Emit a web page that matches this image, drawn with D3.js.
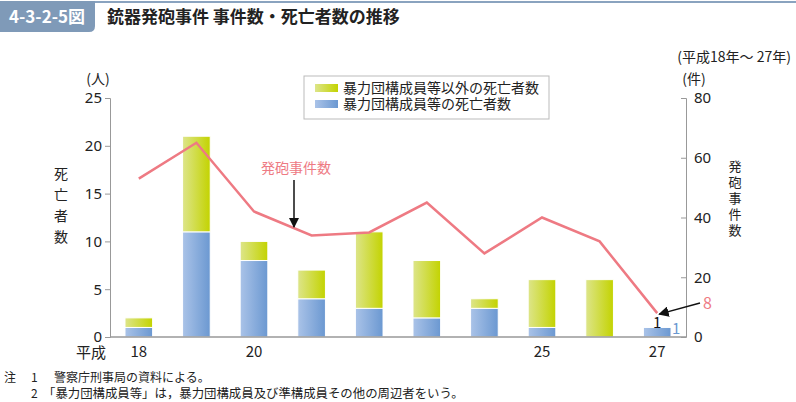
<!DOCTYPE html>
<html><head><meta charset="utf-8">
<script src="https://cdn.jsdelivr.net/npm/d3@7"></script>
<style>
html,body{margin:0;padding:0;background:#fff;}
svg{display:block;font-family:"Noto Sans CJK JP","Noto Sans",sans-serif;}
</style></head>
<body>
<svg id="c" width="796" height="402"></svg>
<script>
const years = ["18","19","20","21","22","23","24","25","26","27"];
const tickYears = {"18":"18","20":"20","25":"25","27":"27"};
const gangDeaths = [1, 11, 8, 4, 3, 2, 3, 1, 0, 1];
const otherDeaths = [1, 10, 2, 3, 8, 6, 1, 5, 6, 0];
const incidents = [53, 65, 42, 34, 35, 45, 28, 40, 32, 8];
const leftTicks = [0, 5, 10, 15, 20, 25];
const rightTicks = [0, 20, 40, 60, 80];
const legendLabels = ["暴力団構成員等以外の死亡者数", "暴力団構成員等の死亡者数"];

const svg = d3.select("#c");
const X0 = 110, X1 = 686, Y0 = 337, Y1 = 98;
const x = d3.scaleBand().domain(years).range([X0, X1]).paddingInner(0.52).paddingOuter(0.26);
const yL = d3.scaleLinear().domain([0, 25]).range([Y0, Y1]);
const yR = d3.scaleLinear().domain([0, 80]).range([Y0, Y1]);

const defs = svg.append("defs");
function grad(id, c1, c2) {
  const g = defs.append("linearGradient").attr("id", id).attr("x1", "0").attr("x2", "1").attr("y1", "0").attr("y2", "0");
  g.append("stop").attr("offset", "0").attr("stop-color", c1);
  g.append("stop").attr("offset", "1").attr("stop-color", c2);
}
grad("gBlue", "#aac3e8", "#6b98d1");
grad("gGreen", "#dde58a", "#c3d300");

// Title
svg.append("line").attr("x1", 90).attr("x2", 796).attr("y1", 2).attr("y2", 2).attr("stroke", "#8aa3bf").attr("stroke-width", 2);
svg.append("path").attr("d", "M0,1 H95 V26 Q95,32 89,32 H0 Z").attr("fill", "#7f9ab8");
svg.append("text").attr("x", 47).attr("y", 23).attr("text-anchor", "middle").attr("fill", "#fff")
  .attr("font-size", 17).attr("font-weight", "bold").text("4-3-2-5図");
svg.append("text").attr("x", 107).attr("y", 23).attr("fill", "#222")
  .attr("font-size", 17).attr("font-weight", "bold").text("銃器発砲事件 事件数・死亡者数の推移");

svg.append("text").attr("x", 791).attr("y", 62).attr("text-anchor", "end").attr("fill", "#222")
  .attr("font-size", 14).text("(平成18年～ 27年)");

// Bars
const data = years.map((y, i) => ({year: y, gang: gangDeaths[i], other: otherDeaths[i]}));
const stack = d3.stack().keys(["gang", "other"])(data);
const fills = {gang: "url(#gBlue)", other: "url(#gGreen)"};
stack.forEach(layer => {
  svg.append("g").selectAll("rect").data(layer.filter(d => d[1] > d[0])).join("rect")
    .attr("x", d => x(d.data.year))
    .attr("width", x.bandwidth())
    .attr("y", d => yL(d[1]))
    .attr("height", d => yL(d[0]) - yL(d[1]))
    .attr("fill", fills[layer.key])
    .attr("stroke", "#fff").attr("stroke-width", 1);
});

// Axes
const axisColor = "#999";
svg.append("line").attr("x1", X0).attr("x2", X1).attr("y1", Y0).attr("y2", Y0).attr("stroke", axisColor).attr("stroke-width", 1.5);
const gl = svg.append("g").attr("transform", `translate(${X0},0)`).call(d3.axisLeft(yL).tickValues(leftTicks).tickSize(5).tickPadding(3));
gl.select(".domain").attr("stroke", axisColor);
gl.selectAll(".tick line").attr("stroke", axisColor);
gl.selectAll(".tick text").attr("font-size", 15).attr("fill", "#222").attr("font-family", "'Noto Sans','Noto Sans CJK JP',sans-serif");
const gr = svg.append("g").attr("transform", `translate(${X1},0)`).call(d3.axisRight(yR).tickValues(rightTicks).tickSize(-5).tickPadding(8));
gr.select(".domain").attr("stroke", axisColor);
gr.selectAll(".tick line").attr("stroke", axisColor);
gr.selectAll(".tick text").attr("font-size", 15).attr("fill", "#222").attr("font-family", "'Noto Sans','Noto Sans CJK JP',sans-serif");

// x labels
svg.append("g").selectAll("text").data(years.filter(y => tickYears[y])).join("text")
  .attr("x", d => x(d) + x.bandwidth() / 2).attr("y", 357).attr("text-anchor", "middle")
  .attr("font-size", 15).attr("fill", "#222").text(d => tickYears[d]);
svg.append("text").attr("x", 106).attr("y", 358).attr("text-anchor", "end").attr("font-size", 15).attr("fill", "#222").text("平成");

// units
svg.append("text").attr("x", 98).attr("y", 84).attr("text-anchor", "middle").attr("font-size", 14).attr("fill", "#222").text("(人)");
svg.append("text").attr("x", 694).attr("y", 84).attr("text-anchor", "middle").attr("font-size", 14).attr("fill", "#222").text("(件)");

// vertical axis titles
svg.append("text").attr("x", 61).attr("y", 167).attr("font-size", 14).attr("fill", "#222")
  .style("writing-mode", "vertical-rl").style("letter-spacing", "7px").text("死亡者数");
svg.append("text").attr("x", 735).attr("y", 160).attr("font-size", 13).attr("fill", "#222")
  .style("writing-mode", "vertical-rl").style("letter-spacing", "3px").text("発砲事件数");

// Line
const line = d3.line().x((d, i) => x(years[i]) + x.bandwidth() / 2).y(d => yR(d));
svg.append("path").datum(incidents).attr("d", line).attr("fill", "none").attr("stroke", "#ee7a83").attr("stroke-width", 2.5).attr("stroke-linejoin", "miter");

// Legend
svg.append("rect").attr("x", 304).attr("y", 76).attr("width", 245).attr("height", 43).attr("fill", "#fff").attr("stroke", "#bbb").attr("stroke-width", 1);
const legFills = ["url(#gGreen)", "url(#gBlue)"];
legendLabels.forEach((l, i) => {
  svg.append("rect").attr("x", 315).attr("y", 84 + i * 16).attr("width", 23).attr("height", 8).attr("fill", legFills[i]);
});
const legText = svg.append("text").attr("x", 343).attr("y", 93).attr("font-size", 14).attr("fill", "#222");
legendLabels.forEach((l, i) => {
  legText.append("tspan").attr("x", 343).attr("dy", i === 0 ? 0 : 16).text(l);
});

// Arrows
defs.append("marker").attr("id", "ah").attr("viewBox", "0 0 10 10").attr("refX", 9).attr("refY", 5)
  .attr("markerWidth", 7).attr("markerHeight", 7).attr("orient", "auto")
  .append("path").attr("d", "M0,0 L10,5 L0,10 Z").attr("fill", "#111");

const lastX = x(years[9]) + x.bandwidth() / 2;
svg.append("text").attr("x", 296).attr("y", 173).attr("text-anchor", "middle").attr("font-size", 14).attr("fill", "#ee7a83").text("発砲事件数");
svg.append("line").attr("x1", 294).attr("x2", 294).attr("y1", 180).attr("y2", 227).attr("stroke", "#111").attr("stroke-width", 1.5).attr("marker-end", "url(#ah)");
svg.append("line").attr("x1", 700).attr("y1", 303).attr("x2", lastX + 2).attr("y2", yR(incidents[9]) + 1).attr("stroke", "#111").attr("stroke-width", 1.5).attr("marker-end", "url(#ah)");
svg.append("text").attr("x", 703).attr("y", 309).attr("font-size", 16).attr("fill", "#ee7a83").text(incidents[9]);
svg.append("text").attr("x", lastX).attr("y", 328).attr("text-anchor", "middle").attr("font-size", 15).attr("fill", "#111").text(gangDeaths[9] + otherDeaths[9]);
svg.append("text").attr("x", x(years[9]) + x.bandwidth() + 1).attr("y", 334).attr("font-size", 15).attr("fill", "#6b98d1").text(gangDeaths[9]);

// Notes
const nf = "'Noto Sans CJK JP',sans-serif";
svg.append("text").attr("x", 4).attr("y", 382).attr("font-size", 12).attr("fill", "#222").attr("font-family", nf).text("注");
svg.append("text").attr("x", 31).attr("y", 382).attr("font-size", 12).attr("fill", "#222").attr("font-family", nf).text("1");
svg.append("text").attr("x", 54).attr("y", 382).attr("font-size", 12).attr("fill", "#222").attr("font-family", nf).text("警察庁刑事局の資料による。");
svg.append("text").attr("x", 31).attr("y", 398).attr("font-size", 12).attr("fill", "#222").attr("font-family", nf).text("2");
svg.append("text").attr("x", 43).attr("y", 398).attr("font-size", 12.4).attr("fill", "#222").attr("font-family", nf).text("「暴力団構成員等」は，暴力団構成員及び準構成員その他の周辺者をいう。");
</script>
</body></html>
